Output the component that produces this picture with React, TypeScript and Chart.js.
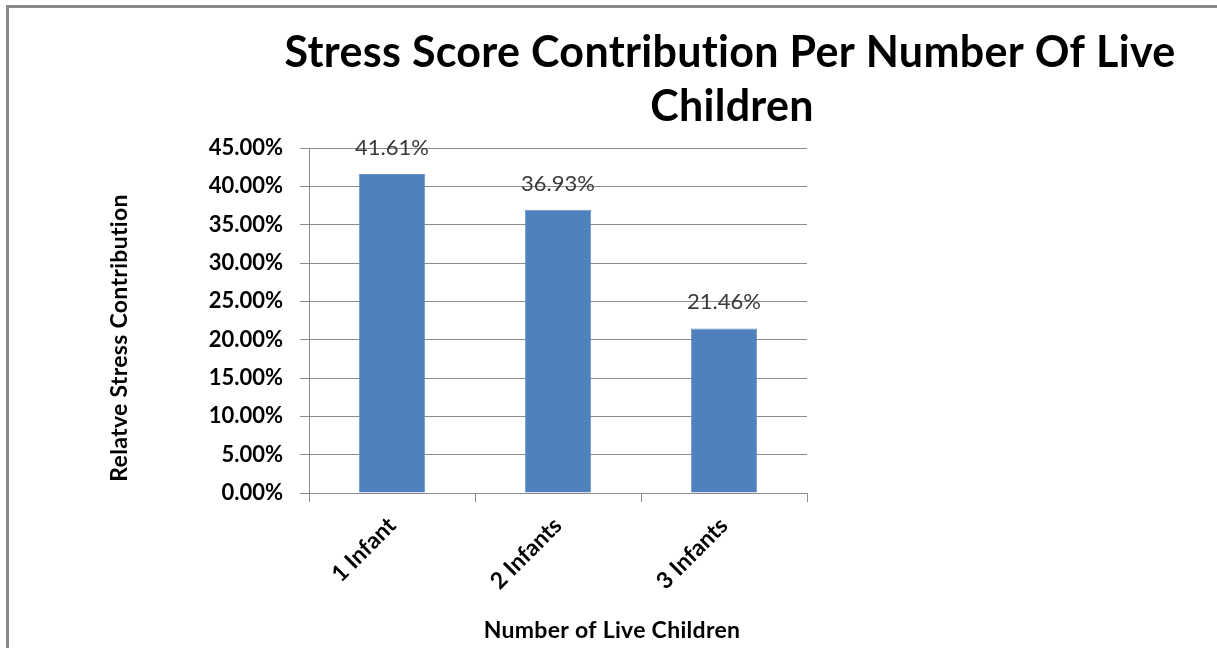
import React, { useEffect, useRef } from "react";
import { Chart, registerables } from "chart.js";

Chart.register(...registerables);

const titleLines = ["Stress Score Contribution Per Number Of Live", "Children"];
const xAxisTitle = "Number of Live Children";
const yAxisTitle = "Relatve Stress Contribution";
const categories = ["1 Infant", "2 Infants", "3 Infants"];
const stressValues = [41.61, 36.93, 21.46];
const yMin = 0;
const yMax = 45;
const yStep = 5;

const FONT = "Lato, 'Open Sans', sans-serif";
const GRID = "#8c8c8c";
const BAR = "#4F81BD";
const W = 1217;
const H = 648;

const textPlugin = {
  id: "excelText",
  afterDatasetsDraw(chart: any) {
    const ctx = chart.ctx;
    ctx.save();
    ctx.font = `normal 22px ${FONT}`;
    ctx.fillStyle = "#3a3a3a";
    ctx.textAlign = "center";
    ctx.textBaseline = "alphabetic";
    const meta = chart.getDatasetMeta(0);
    meta.data.forEach((el: any, i: number) => {
      ctx.fillText(stressValues[i].toFixed(2) + "%", el.x, el.y - 19);
    });
    ctx.restore();
  },
  afterDraw(chart: any) {
    const ctx = chart.ctx;
    ctx.save();
    ctx.fillStyle = "#000";
    ctx.textAlign = "center";
    ctx.textBaseline = "alphabetic";
    try {
      (ctx as any).letterSpacing = "0.3px";
    } catch (e) {}
    ctx.font = `bold 43px ${FONT}`;
    ctx.fillText(titleLines[0], 730, 67);
    ctx.fillText(titleLines[1], 732, 121);
    ctx.font = `bold 23px ${FONT}`;
    ctx.fillText(xAxisTitle, 612, 638);
    ctx.translate(127, 338);
    ctx.rotate(-Math.PI / 2);
    ctx.fillText(yAxisTitle, 0, 0);
    ctx.restore();
  },
};

export default function App() {
  const ref = useRef<HTMLCanvasElement | null>(null);
  useEffect(() => {
    if (!ref.current) return;
    const chart = new Chart(ref.current, {
      type: "bar",
      data: {
        labels: categories,
        datasets: [
          {
            data: stressValues,
            backgroundColor: BAR,
            borderColor: "#6a94c8",
            borderWidth: 1,
            barPercentage: 0.4,
            categoryPercentage: 1,
          },
        ],
      },
      options: {
        responsive: false,
        animation: false,
        devicePixelRatio: 1,
        layout: { padding: { left: 0, right: W - 807, top: 148, bottom: 0 } },
        plugins: {
          legend: { display: false },
          title: { display: false },
          tooltip: { enabled: false },
        },
        scales: {
          x: {
            grid: {
              display: true,
              drawOnChartArea: false,
              drawTicks: true,
              tickLength: 9,
              color: GRID,
              offset: true,
            },
            border: { display: true, color: GRID, width: 1 },
            ticks: {
              autoSkip: false,
              minRotation: 45,
              maxRotation: 45,
              padding: 10,
              color: "#000",
              font: { family: FONT, size: 23, weight: "bold" },
            },
            afterFit: (s: any) => {
              s.height = H - 493;
            },
          },
          y: {
            min: yMin,
            max: yMax,
            grid: { color: GRID, tickLength: 9 },
            border: { display: true, color: GRID, width: 1 },
            ticks: {
              stepSize: yStep,
              padding: 17,
              color: "#000",
              font: { family: FONT, size: 22, weight: "bold" },
              callback: (v: any) => Number(v).toFixed(2) + "%",
            },
            afterFit: (s: any) => {
              s.width = 309;
            },
          },
        },
      },
      plugins: [textPlugin],
    });
    return () => chart.destroy();
  }, []);

  return (
    <div
      style={{
        position: "fixed",
        left: 0,
        top: 0,
        width: W,
        height: H,
        background: "#fff",
        overflow: "hidden",
      }}
    >
      <div
        style={{
          position: "absolute",
          left: 6,
          top: 5,
          width: W - 6,
          height: H - 5,
          borderLeft: "3px solid #8a8a8a",
          borderTop: "3px solid #8a8a8a",
          boxSizing: "border-box",
        }}
      />
      <canvas
        ref={ref}
        width={W}
        height={H}
        style={{ position: "absolute", left: 0, top: 0, width: W, height: H }}
      />
    </div>
  );
}
